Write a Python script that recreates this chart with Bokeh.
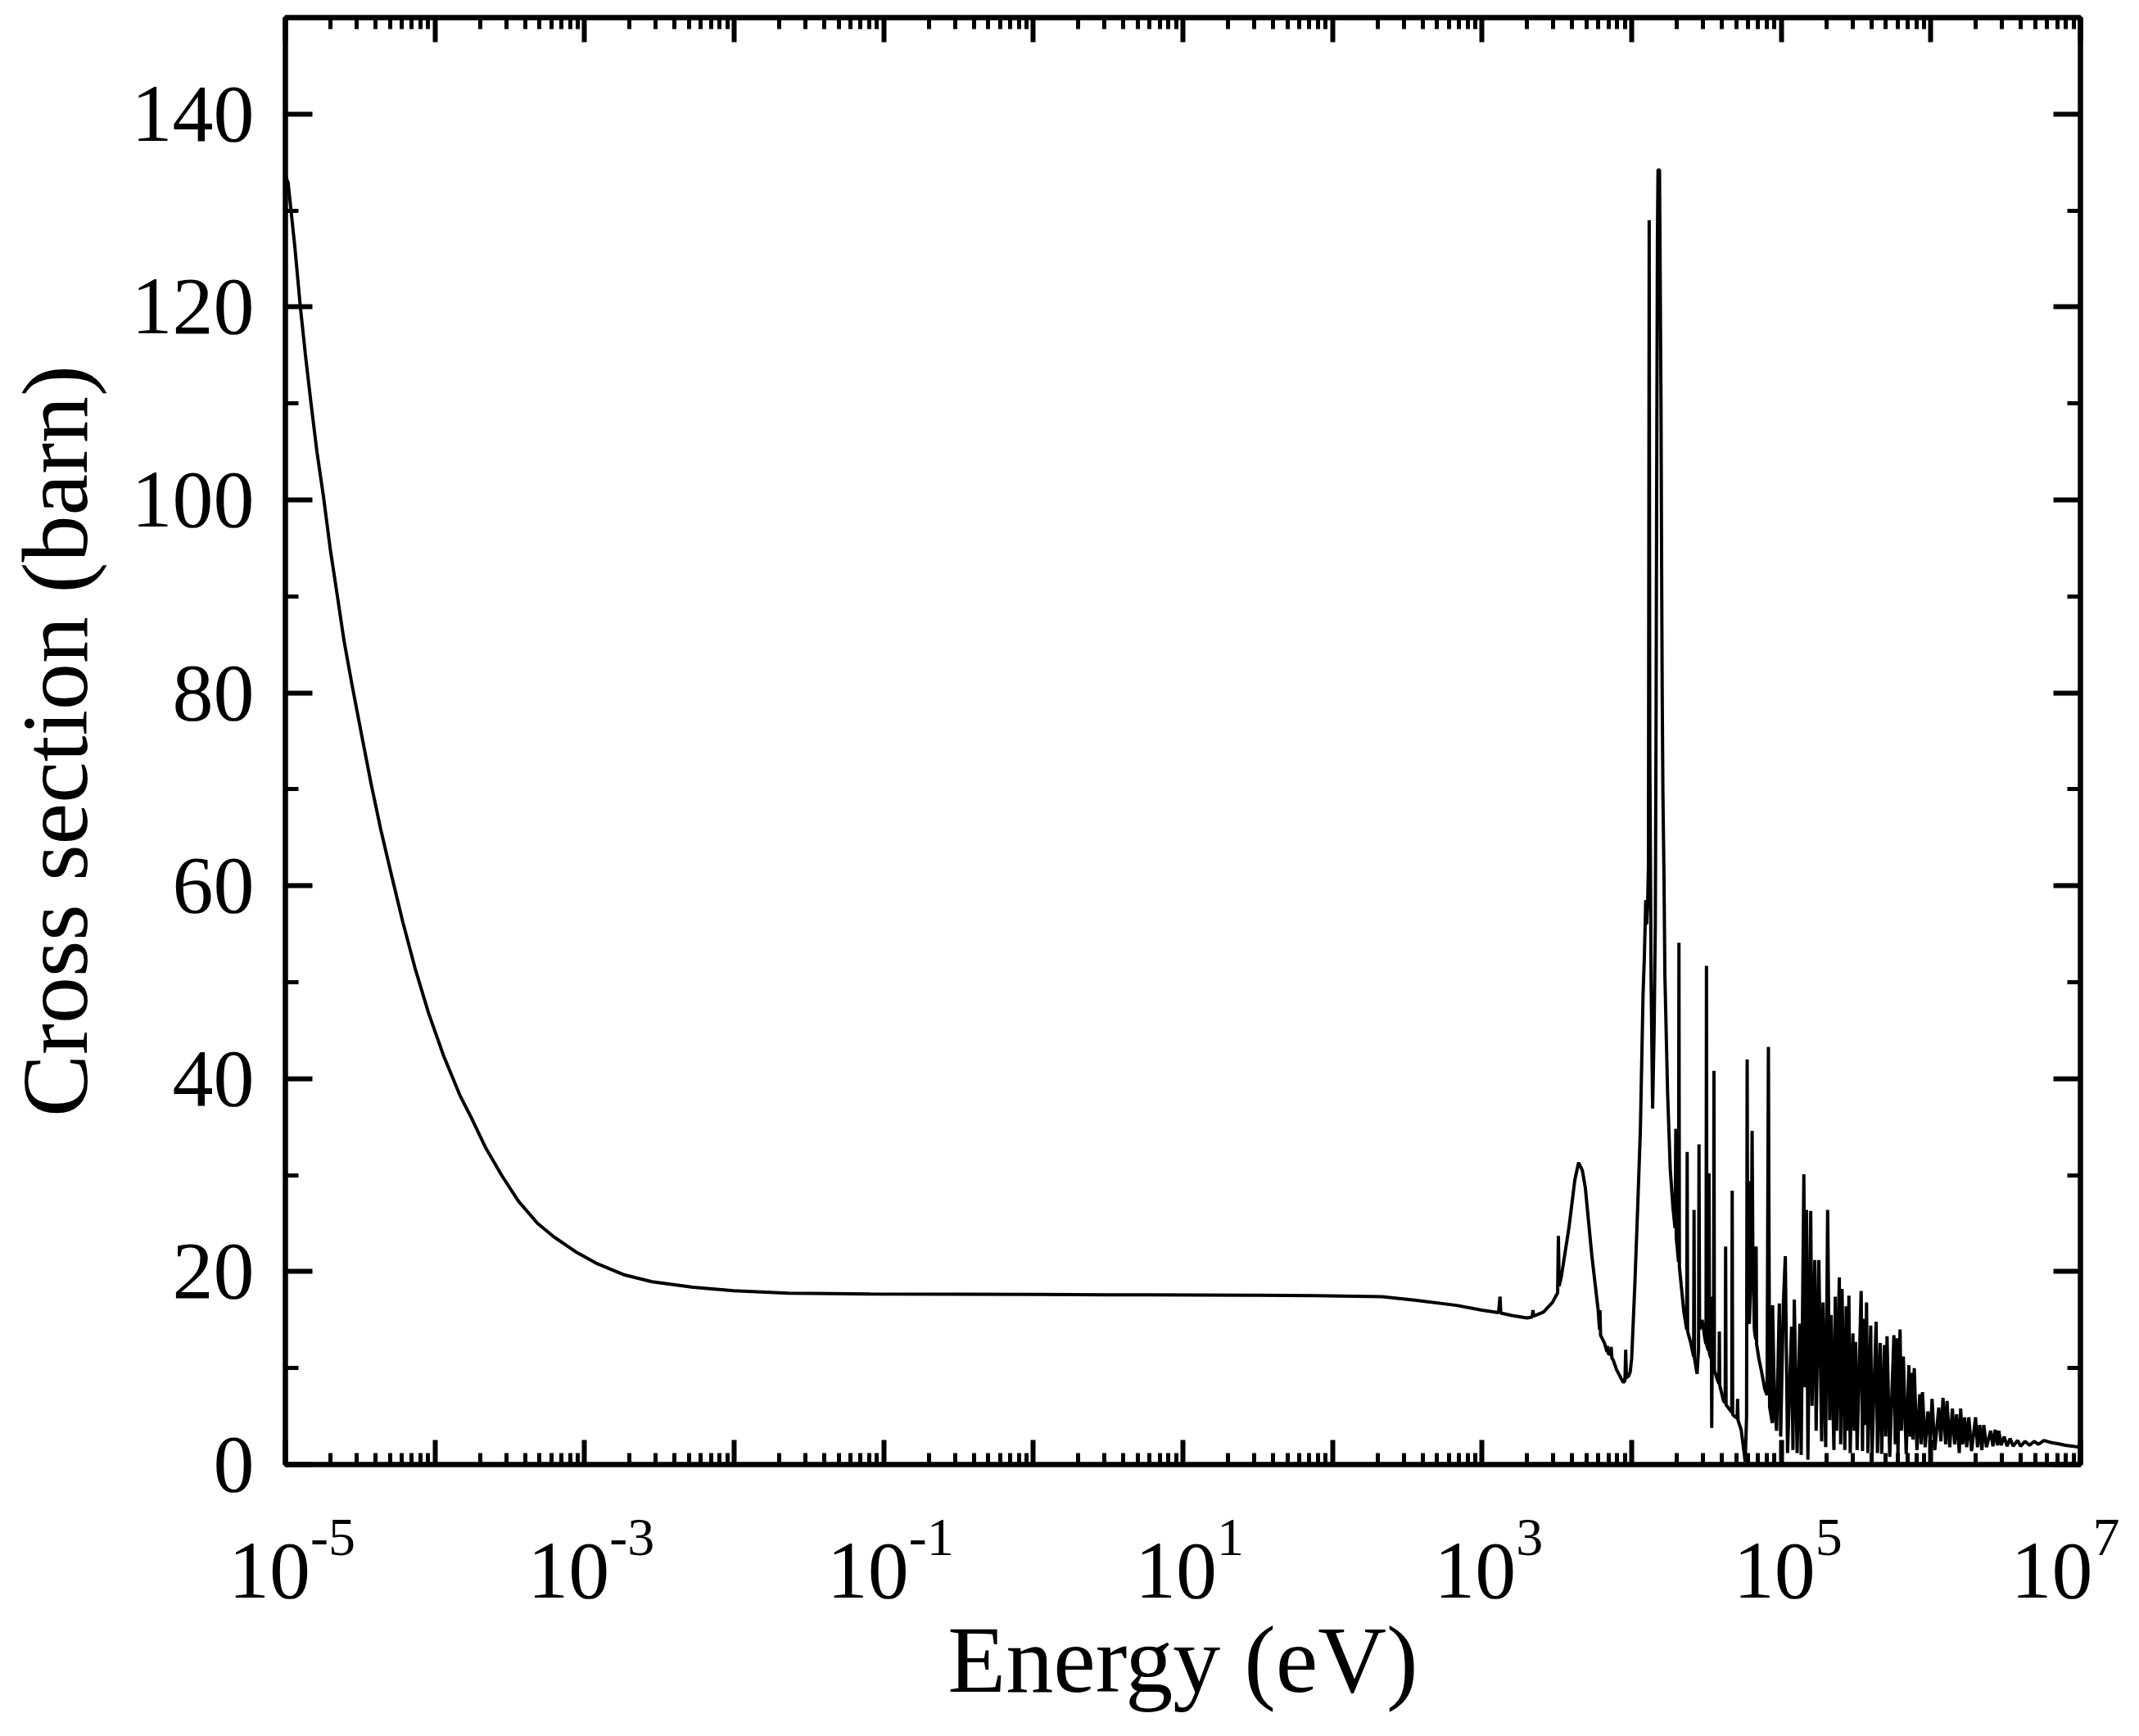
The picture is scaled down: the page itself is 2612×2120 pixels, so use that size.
import numpy as np
from bokeh.plotting import figure
from bokeh.models import (FixedTicker, LogAxis, LinearAxis, ColumnDataSource,
                          CustomJSTickFormatter, CustomLabelingPolicy)
from bokeh.embed import file_html
from bokeh.resources import INLINE
from bokeh.core.properties import value

# ---- data (log10 of energy in eV, cross section in barn) ----
thermal_log_e = [-5.0, -4.982, -4.936, -4.90, -4.863, -4.827, -4.79, -4.745, -4.70, -4.654,
                 -4.608, -4.553, -4.49, -4.426, -4.362, -4.289, -4.216, -4.134, -4.043, -3.943,
                 -3.834, -3.752, -3.66, -3.551, -3.442, -3.314, -3.205, -3.059, -2.913, -2.731,
                 -2.549, -2.275, -2.002, -1.637, -1.09, -0.5, 0.0, 0.5, 0.77, 1.5,
                 1.88, 2.33, 2.55, 2.83, 3.0]
thermal_sigma = [133.6, 132.9, 126.1, 120.0, 114.6, 109.8, 105.1, 100.3, 94.9, 90.2,
                 85.4, 80.7, 75.6, 70.5, 65.8, 61.0, 56.3, 51.5, 46.8, 42.4,
                 38.3, 35.8, 32.8, 29.9, 27.3, 25.0, 23.6, 22.06, 20.8, 19.65,
                 18.95, 18.38, 18.01, 17.76, 17.67, 17.65, 17.63, 17.6, 17.6, 17.55,
                 17.5, 17.4, 17.05, 16.5, 16.0]

low_res_log_e = [3.11, 3.12, 3.125, 3.20, 3.30, 3.335, 3.34, 3.345, 3.41, 3.47,
                 3.505, 3.51, 3.515, 3.53, 3.58, 3.62, 3.645, 3.67, 3.69, 3.734,
                 3.776, 3.785, 3.788, 3.792, 3.818, 3.835, 3.838, 3.843, 3.86, 3.863,
                 3.868, 3.875, 3.90, 3.944, 3.955, 3.96, 3.965, 3.98, 3.99, 4.0]
low_res_sigma = [15.75, 17.4, 15.7, 15.45, 15.2, 15.3, 16.0, 15.4, 15.8, 16.8,
                 17.8, 23.7, 18.5, 19.5, 24.5, 29.5, 31.3, 30.5, 28.7, 21.6,
                 16.0, 14.0, 16.0, 13.4, 12.6, 11.7, 12.3, 11.5, 11.4, 12.2,
                 11.0, 10.9, 9.8, 8.5, 8.7, 11.9, 9.0, 9.2, 9.6, 11.0]

main_res_log_e = [4.021, 4.04, 4.058, 4.076, 4.085, 4.094, 4.10, 4.107, 4.112, 4.117,
                  4.121, 4.13, 4.14, 4.15, 4.158, 4.163, 4.167, 4.172, 4.176, 4.186,
                  4.19, 4.196, 4.20, 4.204, 4.209, 4.216, 4.222, 4.24, 4.258, 4.276,
                  4.29, 4.295, 4.298, 4.304, 4.313, 4.316, 4.319, 4.331, 4.349, 4.368,
                  4.371, 4.374, 4.395, 4.414, 4.417, 4.42, 4.437, 4.447, 4.45, 4.454,
                  4.471, 4.49, 4.497, 4.50, 4.503, 4.514, 4.517, 4.52, 4.53, 4.532,
                  4.535, 4.538, 4.547, 4.55, 4.553, 4.568, 4.583, 4.586, 4.589, 4.614,
                  4.625, 4.628, 4.631, 4.65, 4.669, 4.672, 4.675, 4.687, 4.705, 4.708,
                  4.711, 4.732, 4.759, 4.768, 4.772, 4.776, 4.787, 4.793, 4.796, 4.80,
                  4.805, 4.81, 4.82, 4.829, 4.832, 4.835, 4.85, 4.87, 4.89, 4.905,
                  4.914, 4.918, 4.922, 4.94]
main_res_sigma = [18.6, 26.6, 34.6, 48.7, 52.7, 58.5, 56.0, 58.5, 62.0, 129.0,
                  74.0, 50.0, 36.9, 45.0, 56.0, 77.0, 101.0, 127.0, 134.2, 134.2,
                  124.8, 110.0, 93.4, 80.0, 69.3, 60.9, 50.7, 38.6, 30.6, 26.6,
                  24.5, 34.8, 23.5, 22.6, 21.0, 54.1, 20.5, 18.6, 15.8, 14.0,
                  32.4, 13.8, 12.6, 11.2, 26.4, 11.0, 9.4, 12.0, 33.2, 14.0,
                  15.0, 13.0, 12.5, 51.7, 12.3, 11.8, 30.2, 11.5, 11.0, 17.4,
                  3.8, 10.8, 10.0, 40.8, 9.8, 9.0, 8.4, 13.8, 8.2, 6.6,
                  6.4, 22.6, 6.2, 5.8, 5.4, 28.4, 5.2, 5.0, 4.8, 6.8,
                  4.6, 3.6, 0.3, 5.0, 42.0, 15.0, 14.6, 18.0, 29.4, 20.0,
                  34.6, 22.0, 14.0, 13.0, 22.6, 12.5, 11.0, 9.5, 7.8, 7.2,
                  43.3, 24.0, 6.0, 4.3]

dense_log_e = [4.942, 4.955, 4.969, 4.987, 4.996, 5.014, 5.027, 5.042, 5.069, 5.078,
               5.087, 5.106, 5.124, 5.133, 5.151, 5.16, 5.169, 5.178, 5.197, 5.206,
               5.224, 5.233, 5.251, 5.27, 5.279, 5.297, 5.31, 5.324, 5.333, 5.352,
               5.361, 5.37, 5.388, 5.397, 5.406, 5.425, 5.434, 5.446, 5.452, 5.461,
               5.479, 5.488, 5.497, 5.507, 5.534, 5.543, 5.552, 5.561, 5.57, 5.579,
               5.598, 5.607, 5.634, 5.643, 5.661, 5.671, 5.689, 5.698, 5.707, 5.725,
               5.753, 5.762, 5.771, 5.78, 5.794, 5.804, 5.816, 5.835, 5.853, 5.862,
               5.871, 5.88, 5.889, 5.907, 5.926, 5.935, 5.944, 5.962, 5.98, 5.995,
               6.008, 6.026, 6.053, 6.067, 6.081, 6.099, 6.108, 6.126, 6.144, 6.159,
               6.172, 6.19, 6.199, 6.213, 6.226, 6.24, 6.254, 6.272, 6.299, 6.312,
               6.327, 6.341, 6.354, 6.372, 6.40]
dense_sigma = [16.5, 6.0, 3.5, 16.7, 2.9, 16.7, 21.6, 1.2, 14.3, 1.5,
               17.1, 1.2, 14.6, 1.0, 30.1, 8.0, 26.4, 0.5, 26.3, 6.1,
               21.2, 3.5, 21.2, 2.4, 16.8, 1.8, 26.4, 4.6, 15.5, 1.5,
               17.4, 3.5, 19.4, 2.1, 18.2, 1.5, 16.4, 3.5, 17.5, 1.2,
               13.6, 3.5, 12.7, 1.5, 18.0, 1.4, 15.1, 4.1, 16.8, 1.2,
               14.4, 1.1, 14.8, 1.2, 12.6, 1.1, 12.4, 2.9, 13.3, 0.8,
               13.4, 2.1, 13.1, 1.0, 14.0, 3.5, 11.2, 1.1, 10.3, 2.9,
               9.5, 2.6, 10.0, 1.5, 7.3, 2.1, 7.5, 1.8, 5.5, 2.4,
               6.8, 1.5, 5.9, 2.4, 6.9, 2.1, 6.6, 1.8, 5.8, 2.1,
               5.2, 1.2, 5.8, 2.1, 4.9, 1.8, 4.9, 1.4, 4.9, 1.8,
               4.1, 1.5, 4.1, 1.8, 3.5]

tail_log_e = [6.415, 6.43, 6.445, 6.454, 6.47, 6.49, 6.51, 6.53, 6.55, 6.58,
              6.60, 6.63, 6.66, 6.69, 6.72, 6.755, 6.8, 6.855, 6.9, 6.964, 7.0]
tail_sigma = [1.9, 3.6, 2.0, 3.5, 2.0, 2.9, 1.9, 2.7, 1.9, 2.5,
              1.9, 2.4, 2.0, 2.4, 2.1, 2.5, 2.3, 2.15, 2.0, 1.86, 1.8]

# ---- ticks ----
x_major_ticks = [1e-5, 1e-4, 1e-3, 1e-2, 1e-1, 1e0, 1e1, 1e2, 1e3, 1e4, 1e5, 1e6, 1e7]
x_minor_ticks = [k * 10.0 ** n for n in range(-5, 7) for k in range(2, 10)]
x_label_ticks = [1e-5, 1e-3, 1e-1, 1e1, 1e3, 1e5, 1e7]
x_label_exponents = ["-5", "-3", "-1", "1", "3", "5", "7"]
y_major_ticks = [0, 20, 40, 60, 80, 100, 120, 140]
y_minor_ticks = [10, 30, 50, 70, 90, 110, 130, 150]

log_e = np.array(thermal_log_e + low_res_log_e + main_res_log_e + dense_log_e + tail_log_e)
energy_ev = 10.0 ** log_e
sigma = np.array(thermal_sigma + low_res_sigma + main_res_sigma + dense_sigma + tail_sigma)

FONT = "Liberation Serif"
BASE_PX = 100
SUP_PX = 66
W, H = 2596, 2104
BORDER_L, BORDER_R, BORDER_T, BORDER_B = 345, 56, 21, 316

p = figure(width=W, height=H, x_axis_type="log",
           x_range=(1e-5, 1e7), y_range=(0, 150),
           output_backend="svg", toolbar_location=None,
           min_border_left=BORDER_L, min_border_right=BORDER_R,
           min_border_top=BORDER_T, min_border_bottom=BORDER_B,
           background_fill_color="white", border_fill_color="white")
p.xgrid.visible = False
p.ygrid.visible = False
p.outline_line_color = "black"
p.outline_line_width = 6

no_labels = CustomLabelingPolicy(code="""
const all = [...indices];
for (const i of all) { indices.unset(i); }
return indices;
""")


def style_axis(ax, major_len, minor_len):
    ax.axis_line_color = "black"
    ax.axis_line_width = 6
    ax.major_tick_in = major_len
    ax.major_tick_out = 0
    ax.minor_tick_in = minor_len
    ax.minor_tick_out = 0
    ax.major_tick_line_width = 6
    ax.minor_tick_line_width = 5
    ax.major_tick_line_color = "black"
    ax.minor_tick_line_color = "black"


def hide_labels(ax):
    ax.formatter = CustomJSTickFormatter(code="return '';")
    ax.major_label_policy = no_labels
    ax.major_label_standoff = 0
    ax.major_label_text_font_size = "1px"


# bottom axis
xb = p.xaxis[0]
xb.ticker = FixedTicker(ticks=x_major_ticks, minor_ticks=x_minor_ticks)
hide_labels(xb)
style_axis(xb, 30, 14)
xb.axis_label = "Energy (eV)"
xb.axis_label_text_font = FONT
xb.axis_label_text_font_size = "116px"
xb.axis_label_text_font_style = "normal"
xb.axis_label_text_color = "black"
xb.axis_label_standoff = 174

# left axis
yl = p.yaxis[0]
yl.ticker = FixedTicker(ticks=y_major_ticks, minor_ticks=y_minor_ticks)
style_axis(yl, 33, 16)
yl.major_label_text_font = FONT
yl.major_label_text_font_size = f"{BASE_PX}px"
yl.major_label_text_color = "black"
yl.major_label_standoff = 38
yl.axis_label = "Cross section (barn)"
yl.axis_label_text_font = FONT
yl.axis_label_text_font_size = "114px"
yl.axis_label_text_font_style = "normal"
yl.axis_label_text_color = "black"
yl.axis_label_standoff = 27

# mirrored top and right axes (ticks only)
xt = LogAxis(ticker=FixedTicker(ticks=x_major_ticks, minor_ticks=x_minor_ticks))
hide_labels(xt)
style_axis(xt, 30, 14)
p.add_layout(xt, "above")
yr = LinearAxis(ticker=FixedTicker(ticks=y_major_ticks, minor_ticks=y_minor_ticks))
hide_labels(yr)
style_axis(yr, 33, 16)
p.add_layout(yr, "right")

# curve
p.line(energy_ev, sigma, line_color="black", line_width=4)


# x tick labels 10^n drawn as base + superscript, the whole centred on the tick
def adv(s):
    return sum(0.333 if ch == "-" else 0.5 for ch in s) * SUP_PX


# the last label (at the right frame edge) is kept inside the canvas
room_right = BORDER_R - 8
offsets = []
for e in x_label_exponents:
    off = (BASE_PX - adv(e)) / 2.0 + 8
    offsets.append(off)
offsets[-1] = min(offsets[-1], room_right - adv(x_label_exponents[-1]))

lbl = ColumnDataSource(dict(x=x_label_ticks, y=[0.0] * len(x_label_ticks),
                            base=["10"] * len(x_label_ticks), exp=x_label_exponents,
                            off=offsets))
p.text(x="x", y="y", text="base", source=lbl, x_offset="off", y_offset=130,
       text_align="right", text_baseline="alphabetic",
       text_font=value(FONT), text_font_size=f"{BASE_PX}px", text_color="black",
       level="overlay")
p.text(x="x", y="y", text="exp", source=lbl, x_offset="off", y_offset=89,
       text_align="left", text_baseline="alphabetic",
       text_font=value(FONT), text_font_size=f"{SUP_PX}px", text_color="black",
       level="overlay")

open("out.html", "w").write(file_html(p, INLINE))
